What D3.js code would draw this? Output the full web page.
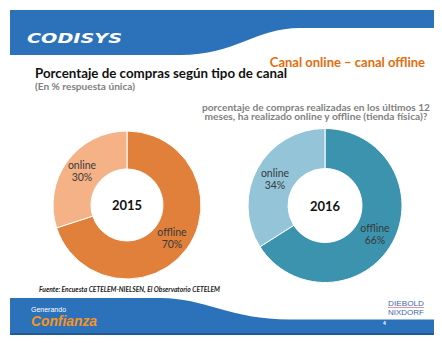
<!DOCTYPE html>
<html><head><meta charset="utf-8">
<script src="https://cdn.jsdelivr.net/npm/d3@7"></script>
<style>html,body{margin:0;padding:0;background:#fff;}svg{display:block;}</style>
</head><body>
<svg id="c" width="442" height="343"></svg>
<script>
const years = ["2015", "2016"];
const channels = ["offline", "online"];
const values2015 = [70, 30];
const values2016 = [66, 34];
const title = "Porcentaje de compras según tipo de canal";
const subtitle = "(En % respuesta única)";
const section = "Canal online – canal offline";
const question = ["porcentaje de compras realizadas en los últimos 12", "meses, ha realizado online y offline (tienda física)?"];
const source = "Fuente: Encuesta CETELEM-NIELSEN,  El Observatorio CETELEM";

const svg = d3.select("#c");
const F = "Lato, 'Open Sans', sans-serif";
const blue = "#2B72BA";

// top banner
svg.append("path").attr("d", "M10,10 H434 V28 H300 C255,28 236,55 180,55 H10 Z").attr("fill", blue);
svg.append("text").attr("x", 27).attr("y", 43).attr("fill", "#fff")
  .attr("font-family", "'DejaVu Sans', sans-serif").attr("font-weight", "bold").attr("font-style", "italic")
  .attr("font-size", 14).attr("textLength", 95).attr("lengthAdjust", "spacingAndGlyphs").text("CODISYS");
svg.append("text").attr("x", 425).attr("y", 67).attr("text-anchor", "end").attr("fill", "#E46C0A")
  .attr("font-family", F).attr("font-weight", "bold").attr("font-size", 13).text(section);

svg.append("text").attr("x", 35).attr("y", 78).attr("fill", "#111")
  .attr("font-family", F).attr("font-weight", "bold").attr("font-size", 13.5)
  .attr("textLength", 252).attr("lengthAdjust", "spacingAndGlyphs").text(title);
svg.append("text").attr("x", 35).attr("y", 90).attr("fill", "#808080")
  .attr("font-family", F).attr("font-weight", "bold").attr("font-size", 9)
  .attr("textLength", 100).attr("lengthAdjust", "spacingAndGlyphs").text(subtitle);

question.forEach((q, i) => {
  svg.append("text").attr("x", 316).attr("y", 110.5 + i * 9.5).attr("text-anchor", "middle").attr("fill", "#7f7f7f")
    .attr("font-family", F).attr("font-weight", "bold").attr("font-size", 9.5)
    .attr("textLength", i === 0 ? 228 : 223).attr("lengthAdjust", "spacingAndGlyphs").text(q);
});

// donuts
const pie = d3.pie().sort(null).value(d => d.v);
const charts = [
  {year: years[0], vals: values2015, cx: 127, cy: 205, R: 74, r: 36, colors: ["#E0803A", "#F5B287"],
   lab: [[172, 232], [82, 165]]},
  {year: years[1], vals: values2016, cx: 325, cy: 205.5, R: 77, r: 37, colors: ["#3C93AD", "#93C4D8"],
   lab: [[375, 228], [275, 173]]}
];
charts.forEach(c => {
  const data = channels.map((k, i) => ({k, v: c.vals[i], i}));
  const arc = d3.arc().innerRadius(c.r).outerRadius(c.R);
  const g = svg.append("g").attr("transform", `translate(${c.cx},${c.cy})`);
  g.selectAll("path").data(pie(data)).join("path")
    .attr("d", arc).attr("fill", d => c.colors[d.data.i]).attr("stroke", "#fff").attr("stroke-width", 1);
  g.append("text").attr("y", 5).attr("text-anchor", "middle").attr("font-family", F).attr("font-weight", "bold")
    .attr("font-size", 13).attr("fill", "#111").text(c.year);
  data.forEach((d, i) => {
    const t = svg.append("text").attr("text-anchor", "middle").attr("font-family", F).attr("font-size", 10.5).attr("fill", "#3a3a3a");
    t.append("tspan").attr("x", c.lab[i][0]).attr("y", c.lab[i][1] + 3.5).text(d.k);
    t.append("tspan").attr("x", c.lab[i][0]).attr("y", c.lab[i][1] + 16).text(d.v + "%");
  });
});

svg.append("text").attr("x", 39).attr("y", 292).attr("fill", "#222")
  .attr("font-family", F).attr("font-weight", "bold").attr("font-style", "italic").attr("font-size", 6.5)
  .attr("textLength", 181).attr("lengthAdjust", "spacingAndGlyphs").text(source);

// bottom banner
svg.append("path").attr("d", "M10,298 H160 C205,298 230,319.5 290,319.5 H434 V335 H10 Z").attr("fill", blue);
svg.append("rect").attr("x", 10).attr("y", 333).attr("width", 424).attr("height", 2).attr("fill", "#1F5A96");
svg.append("text").attr("x", 31).attr("y", 312).attr("fill", "#fff")
  .attr("font-family", "'Liberation Sans', Arial, sans-serif").attr("font-size", 7).text("Generando");
svg.append("text").attr("x", 31).attr("y", 326).attr("fill", "#F7941D")
  .attr("font-family", "'Liberation Sans', Arial, sans-serif").attr("font-weight", "bold").attr("font-style", "italic")
  .attr("font-size", 15).attr("textLength", 66).attr("lengthAdjust", "spacingAndGlyphs").text("Confianza");
svg.append("text").attr("x", 388).attr("y", 306).attr("fill", "#3F6AA8")
  .attr("font-family", "'Liberation Sans', Arial, sans-serif").attr("font-size", 7.5)
  .attr("textLength", 36).attr("lengthAdjust", "spacingAndGlyphs").text("DIEBOLD");
svg.append("rect").attr("x", 388).attr("y", 307).attr("width", 36).attr("height", 0.8).attr("fill", "#D9779B");
svg.append("text").attr("x", 388).attr("y", 315).attr("fill", "#3F6AA8")
  .attr("font-family", "'Liberation Sans', Arial, sans-serif").attr("font-size", 7.5)
  .attr("textLength", 36).attr("lengthAdjust", "spacingAndGlyphs").text("NIXDORF");
svg.append("text").attr("x", 383).attr("y", 325).attr("fill", "#fff")
  .attr("font-family", "'Liberation Sans', Arial, sans-serif").attr("font-weight", "bold").attr("font-size", 5).text("4");
</script>
</body></html>
